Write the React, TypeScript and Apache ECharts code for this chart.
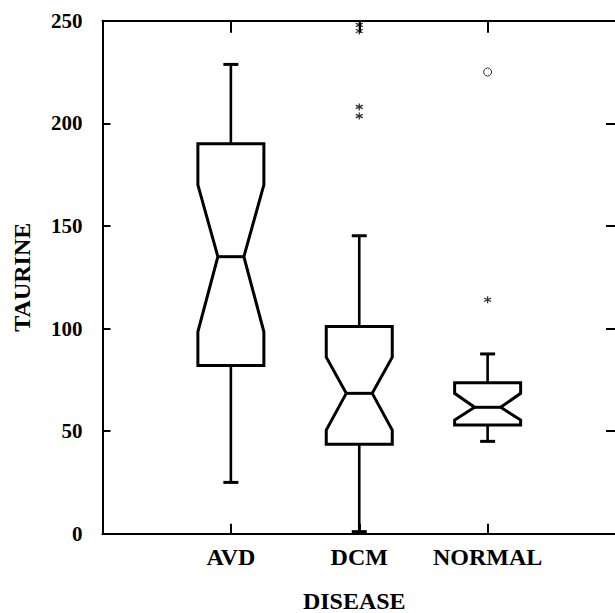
import React, { useEffect, useRef } from "react";
import * as echarts from "echarts";

const categories = ["AVD", "DCM", "NORMAL"];
const whiskerLow = [25, 1, 45];
const q1 = [82, 43.6, 53];
const notchLow = [98.4, 50.5, 55.4];
const median = [135, 68.4, 61.6];
const notchHigh = [170, 86, 68.4];
const q3 = [190, 101, 73.6];
const whiskerHigh = [228.7, 145.2, 87.6];
// [category position (1-based), value]
const starOutliers = [
  [2, 248],
  [2, 245],
  [2, 208],
  [2, 203.5],
  [3, 114],
];
const circleOutliers = [[3, 225]];
const yMin = 0;
const yMax = 250;
const yStep = 50;

const FONT = "'Liberation Serif', 'Times New Roman', serif";

export default function App() {
  const ref = useRef<HTMLDivElement>(null);

  useEffect(() => {
    if (!ref.current) return;
    const chart = echarts.init(ref.current, undefined, { renderer: "svg" });

    const boxData = categories.map((_, i) => [
      i + 1,
      whiskerLow[i],
      q1[i],
      notchLow[i],
      median[i],
      notchHigh[i],
      q3[i],
      whiskerHigh[i],
    ]);

    const black = "#000";
    const axisCommon = {
      type: "value" as const,
      axisLine: { show: true, onZero: false, lineStyle: { color: black, width: 2 } },
      splitLine: { show: false },
    };

    const option: any = {
      animation: false,
      backgroundColor: "#fff",
      grid: {
        left: 102.5,
        right: 4,
        top: 20.7,
        bottom: 79.3,
        containLabel: false,
        outerBoundsMode: "none",
      },
      xAxis: [
        {
          ...axisCommon,
          position: "bottom",
          min: 0,
          max: categories.length + 1,
          interval: 1,
          axisTick: { show: true, inside: true, length: 10, lineStyle: { color: black, width: 2 } },
          axisLabel: {
            show: true,
            formatter: (v: number) => categories[v - 1] ?? "",
            fontSize: 24,
            fontWeight: "bold",
            fontFamily: FONT,
            color: black,
            margin: 11,
          },
          name: "DISEASE",
          nameLocation: "middle",
          nameGap: 55,
          nameTextStyle: {
            fontSize: 24,
            fontWeight: "bold",
            fontFamily: FONT,
            color: black,
            padding: [0, 10, 0, 0],
          },
        },
        {
          ...axisCommon,
          position: "top",
          min: 0,
          max: categories.length + 1,
          interval: 1,
          axisTick: { show: true, inside: true, length: 12, lineStyle: { color: black, width: 2 } },
          axisLabel: { show: false },
        },
      ],
      yAxis: [
        {
          ...axisCommon,
          position: "left",
          min: yMin,
          max: yMax,
          interval: yStep,
          axisTick: { show: true, inside: true, length: 8, lineStyle: { color: black, width: 2 } },
          axisLabel: {
            show: true,
            fontSize: 21,
            fontWeight: "bold",
            fontFamily: FONT,
            color: black,
            margin: 20,
          },
          name: "TAURINE",
          nameLocation: "middle",
          nameGap: 69,
          nameRotate: 90,
          nameTextStyle: {
            fontSize: 24,
            fontWeight: "bold",
            fontFamily: FONT,
            color: black,
          },
        },
        {
          ...axisCommon,
          position: "right",
          min: yMin,
          max: yMax,
          interval: yStep,
          axisTick: { show: true, inside: true, length: 10, lineStyle: { color: black, width: 2 } },
          axisLabel: { show: false },
        },
      ],
      series: [
        {
          type: "custom",
          xAxisIndex: 0,
          yAxisIndex: 0,
          clip: false,
          encode: { x: 0, y: [1, 2, 3, 4, 5, 6, 7] },
          data: boxData,
          renderItem: (params: any, api: any) => {
            const xv = api.value(0);
            const pt = (k: number) => api.coord([xv, api.value(k)]);
            const [cx, yLo] = pt(1);
            const yQ1 = pt(2)[1];
            const yNL = pt(3)[1];
            const yMed = pt(4)[1];
            const yNH = pt(5)[1];
            const yQ3 = pt(6)[1];
            const yHi = pt(7)[1];
            const bw = 33;
            const nw = 13;
            const cap = 7.5;
            const lw = 2.6;
            const boxStyle = { fill: "#fff", stroke: black, lineWidth: 3, lineJoin: "miter" };
            const lineStyle = { stroke: black, lineWidth: lw };
            return {
              type: "group",
              children: [
                { type: "line", shape: { x1: cx, y1: yQ3, x2: cx, y2: yHi }, style: lineStyle },
                { type: "line", shape: { x1: cx - cap, y1: yHi, x2: cx + cap, y2: yHi }, style: { stroke: black, lineWidth: 3 } },
                { type: "line", shape: { x1: cx, y1: yQ1, x2: cx, y2: yLo }, style: lineStyle },
                { type: "line", shape: { x1: cx - cap, y1: yLo, x2: cx + cap, y2: yLo }, style: { stroke: black, lineWidth: 3 } },
                {
                  type: "polygon",
                  shape: {
                    points: [
                      [cx - bw, yQ3],
                      [cx + bw, yQ3],
                      [cx + bw, yNH],
                      [cx + nw, yMed],
                      [cx + bw, yNL],
                      [cx + bw, yQ1],
                      [cx - bw, yQ1],
                      [cx - bw, yNL],
                      [cx - nw, yMed],
                      [cx - bw, yNH],
                    ],
                  },
                  style: boxStyle,
                },
                { type: "line", shape: { x1: cx - nw, y1: yMed, x2: cx + nw, y2: yMed }, style: { stroke: black, lineWidth: 3 } },
              ],
            };
          },
        },
        {
          type: "scatter",
          xAxisIndex: 0,
          yAxisIndex: 0,
          data: starOutliers,
          symbol: "path://M5,0L5,10M0.7,2.5L9.3,7.5M0.7,7.5L9.3,2.5",
          symbolSize: 7,
          itemStyle: { color: "none", borderColor: black, borderWidth: 1.3 },
        },
        {
          type: "scatter",
          xAxisIndex: 0,
          yAxisIndex: 0,
          data: circleOutliers,
          symbol: "circle",
          symbolSize: 8,
          itemStyle: { color: "rgba(255,255,255,0)", borderColor: black, borderWidth: 1 },
        },
      ],
    };

    chart.setOption(option);
    return () => chart.dispose();
  }, []);

  return (
    <div
      style={{
        position: "fixed",
        left: 0,
        top: 0,
        width: 615,
        height: 613,
        overflow: "hidden",
        background: "#fff",
      }}
    >
      <div ref={ref} style={{ width: 620, height: 613 }} />
    </div>
  );
}
